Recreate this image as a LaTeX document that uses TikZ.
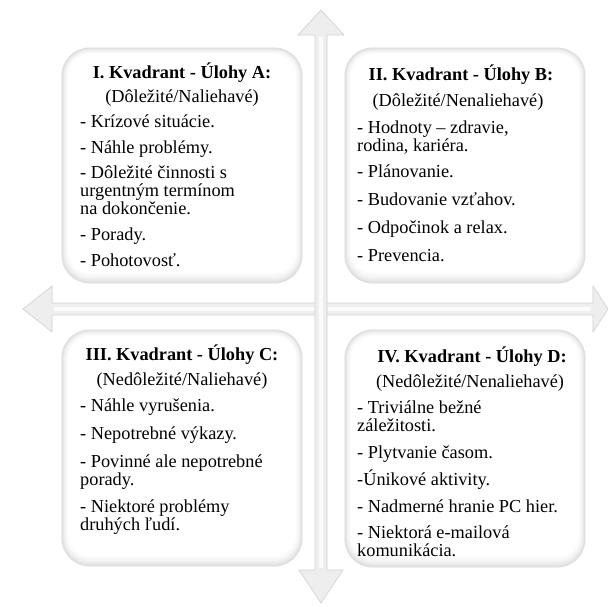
\documentclass[tikz,border=0pt]{standalone}
\usepackage{fontspec}
\setmainfont{Liberation Serif}
\usetikzlibrary{calc}
\tikzset{
  ln/.style={anchor=base west, inner sep=0pt, font=\fontsize{18.3}{18}\selectfont},
  ttl/.style={anchor=base, inner sep=0pt, font=\fontsize{18.3}{18}\selectfont\bfseries},
  subt/.style={anchor=base, inner sep=0pt, font=\fontsize{18.3}{18}\selectfont},
  arrowbody/.style={fill=gray!13, draw=gray!38, line width=0.6pt, line join=miter},
  shafthl/.style={draw=white, line width=3.5pt, opacity=0.8},
  qbox/.style={rectangle, inner sep=0pt, draw=none},
}
\begin{document}
\begin{tikzpicture}[x=1pt,y=-1pt]
\useasboundingbox (0,0) rectangle (610,606);
% ---- arrows ----
\coordinate (hl) at (23,309);
\coordinate (hr) at (608,309);
\coordinate (vt) at (321,10);
\coordinate (vb) at (321,603);
\draw[arrowbody] (hl) -- (52,286) -- (52,303) -- (593,303) -- (593,286) -- (hr) -- (593,332) -- (593,315) -- (52,315) -- (52,332) -- cycle;
\draw[shafthl] (54,309) -- (591,309);
\draw[arrowbody] (vt) -- (344,35) -- (327,35) -- (327,570) -- (343,570) -- (vb) -- (299,570) -- (315,570) -- (315,35) -- (298,35) -- cycle;
\draw[shafthl] (321,37) -- (321,568);
% ---- boxes ----
\node[qbox, minimum width=240pt, minimum height=235pt] (q1) at (182,165.5) {};
\node[qbox, minimum width=240pt, minimum height=235pt] (q2) at (465,165.5) {};
\node[qbox, minimum width=240pt, minimum height=236pt] (q3) at (182,448) {};
\node[qbox, minimum width=240pt, minimum height=237pt] (q4) at (465,448.5) {};
\foreach \q in {q1,q2,q3,q4}{
  \foreach \i/\c in {0/24,1/20,2/16,3/12,4/9,5/6,6/4,7/2,8/0}{
    \pgfmathsetmacro\rr{28-\i*0.8}
    \fill[gray!\c, rounded corners=\rr pt] ($(\q.north west)+(\i*0.8,\i*0.8)$) rectangle ($(\q.south east)+(-\i*0.8,-\i*1.3)$);
  }
  \draw[gray!28, line width=0.5pt, rounded corners=28pt] (\q.north west) rectangle (\q.south east);
}
% ---- box I ----
\node[ttl] (t1) at (182,78) {I. Kvadrant - Úlohy A:};
\node[subt] (s1) at (182,102) {(Dôležité/Naliehavé)};
\node[ln] (a1) at (80,127) {- Krízové situácie.};
\node[ln] (a2) at (80,153) {- Náhle problémy.};
\node[ln] (a3) at (80,178) {- Dôležité činnosti s};
\node[ln] (a4) at (80,196) {urgentným termínom};
\node[ln] (a5) at (80,214) {na dokončenie.};
\node[ln] (a6) at (80,240) {- Porady.};
\node[ln] (a7) at (80,266) {- Pohotovosť.};
% ---- box II ----
\node[ttl] (t2) at (461,80) {II. Kvadrant - Úlohy B:};
\node[subt] (s2) at (458,106) {(Dôležité/Nenaliehavé)};
\node[ln] (b1) at (357,133) {- Hodnoty – zdravie,};
\node[ln] (b2) at (357,151) {rodina, kariéra.};
\node[ln] (b3) at (357,177) {- Plánovanie.};
\node[ln] (b4) at (357,205) {- Budovanie vzťahov.};
\node[ln] (b5) at (357,233) {- Odpočinok a relax.};
\node[ln] (b6) at (357,261) {- Prevencia.};
% ---- box III ----
\node[ttl] (t3) at (182,360) {III. Kvadrant - Úlohy C:};
\node[subt] (s3) at (182,385) {(Nedôležité/Naliehavé)};
\node[ln] (c1) at (80,411) {- Náhle vyrušenia.};
\node[ln] (c2) at (80,439) {- Nepotrebné výkazy.};
\node[ln] (c3) at (80,467) {- Povinné ale nepotrebné};
\node[ln] (c4) at (80,485) {porady.};
\node[ln] (c5) at (80,512) {- Niektoré problémy};
\node[ln] (c6) at (80,530) {druhých ľudí.};
% ---- box IV ----
\node[ttl] (t4) at (472,362) {IV. Kvadrant - Úlohy D:};
\node[subt] (s4) at (470,387) {(Nedôležité/Nenaliehavé)};
\node[ln] (d1) at (357,413) {- Triviálne bežné};
\node[ln] (d2) at (357,431) {záležitosti.};
\node[ln] (d3) at (357,458) {- Plytvanie časom.};
\node[ln] (d4) at (357,485) {-Únikové aktivity.};
\node[ln] (d5) at (357,512) {- Nadmerné hranie PC hier.};
\node[ln] (d6) at (357,538) {- Niektorá e-mailová};
\node[ln] (d7) at (357,556) {komunikácia.};
\end{tikzpicture}
\end{document}
